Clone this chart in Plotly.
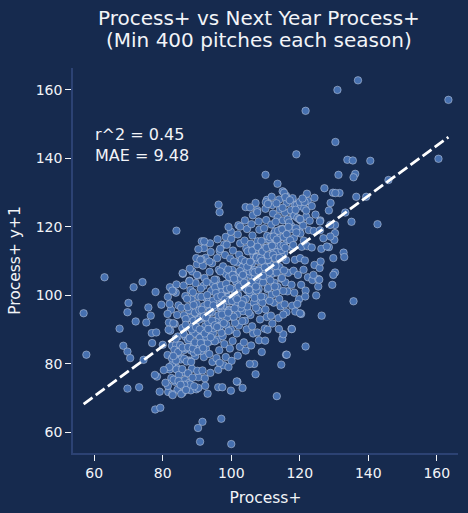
import numpy as np
import plotly.graph_objects as go

# points, (Process+, Process+ y+1)
upper_tail = [
    (121.7, 153.9), (131.0, 160.0), (137.0, 162.8), (163.4, 157.1), (130.4, 144.8),
    (119.0, 141.2), (133.9, 139.6), (135.5, 139.4), (140.6, 139.3), (160.5, 139.9),
    (131.3, 135.2), (136.2, 135.5), (135.7, 134.5), (110.0, 135.2), (113.5, 132.6),
    (115.0, 130.4), (115.4, 130.0), (115.8, 128.7), (122.1, 129.7), (124.3, 128.5),
    (127.2, 131.3), (129.7, 130.0), (131.6, 129.9), (130.4, 129.9), (136.5, 128.8),
    (139.4, 128.8), (145.9, 133.7), (133.3, 124.2), (135.1, 121.5), (142.7, 120.8),
    (129.0, 127.0), (128.5, 124.8), (120.0, 127.3), (121.4, 127.3), (121.9, 124.8),
    (120.1, 122.3), (126.0, 121.9), (130.3, 120.6), (130.3, 118.2), (130.1, 116.2),
    (128.5, 114.1), (132.8, 112.5), (133.0, 111.2), (129.8, 110.9), (126.1, 109.9),
    (130.3, 106.7), (129.8, 106.0), (129.5, 103.1), (125.4, 104.8), (124.8, 100.0),
    (121.6, 99.7), (135.7, 98.3), (126.4, 94.1), (120.1, 94.8), (121.7, 85.1),
    (96.3, 126.5), (96.6, 124.3), (99.2, 120.0), (104.2, 125.8), (107.1, 127.0),
    (110.1, 127.2), (110.7, 126.7), (84.0, 118.9), (107.6, 124.3), (105.5, 125.7),
    (127.9, 114.3), (128.9, 117.2), (126.9, 116.7), (125.9, 121.6), (128.9, 120.6),
    (125.4, 102.6), (125.7, 104.6), (124.0, 106.0), (121.1, 107.5), (102.6, 120.1),
    (113.2, 126.9), (115.0, 125.6), (117.1, 127.8), (118.8, 125.0), (120.8, 128.3),
    (122.9, 121.8), (119.0, 118.4), (121.2, 116.0), (123.5, 126.1), (116.7, 120.0),
]

lower_tail = [
    (63.0, 105.3), (74.1, 103.9), (71.5, 102.4), (77.9, 101.0), (70.0, 97.8),
    (69.7, 95.1), (75.8, 96.5), (56.9, 94.8), (72.1, 92.4), (75.2, 92.1),
    (76.5, 94.1), (67.4, 90.3), (79.6, 97.3), (82.0, 97.5), (81.4, 94.6),
    (68.5, 85.3), (69.7, 83.6), (70.5, 81.7), (57.7, 82.7), (69.7, 72.8),
    (73.1, 73.2), (76.8, 89.0), (78.1, 89.2), (81.7, 90.0), (76.9, 86.1),
    (74.4, 81.2), (85.8, 106.5), (87.9, 107.8), (91.4, 115.8), (92.1, 115.8),
    (90.4, 113.5), (91.3, 110.6), (83.1, 101.2), (87.8, 104.2), (90.0, 106.0),
    (83.1, 91.9), (77.8, 66.7), (79.3, 67.2), (91.6, 63.1), (90.3, 61.3),
    (97.1, 64.0), (90.9, 57.3), (100.0, 56.6), (113.3, 70.6), (114.6, 79.8),
    (116.0, 82.7), (79.1, 71.9), (82.8, 71.2), (85.4, 71.2), (93.1, 71.3),
    (99.9, 72.2), (103.3, 73.0), (101.8, 74.8), (96.2, 73.2), (97.4, 73.2),
    (90.4, 73.0), (92.4, 73.6), (88.0, 74.0), (86.3, 73.9), (81.5, 73.6),
    (78.3, 76.3), (77.7, 76.8), (81.9, 79.1), (85.7, 78.5), (82.7, 81.6),
    (83.9, 81.0), (80.0, 85.6), (107.1, 77.0), (106.7, 80.0), (105.4, 80.0),
    (96.6, 80.3), (99.2, 79.1), (109.9, 86.8), (101.6, 74.9), (117.6, 90.2),
    (116.2, 82.7), (108.9, 83.5), (114.9, 87.3), (115.2, 88.7), (113.9, 90.2),
    (110.6, 90.0), (119.3, 97.5), (120.4, 94.6), (118.7, 95.3), (115.2, 94.4),
    (117.7, 90.2), (91.0, 110.4), (93.6, 109.9), (96.8, 113.6), (98.7, 114.8),
    (82.8, 101.4), (80.8, 74.5), (82.9, 70.9), (84.6, 75.0), (86.8, 72.4),
    (87.4, 77.3), (89.2, 73.5), (80.3, 78.2), (83.1, 82.3), (85.2, 73.9),
    (88.7, 76.0),
]

# dense cloud, read column by column
core_a = [
    (81.6, 71.8), (82.5, 75.9), (82.0, 78.4), (81.4, 82.6), (82.7, 85.3), (82.2, 89.7), (81.8, 92.1), (82.4, 95.8), (81.5, 99.6), (82.1, 102.4),
    (84.3, 72.5), (83.6, 74.8), (84.1, 78.9), (84.7, 81.4), (83.9, 85.6), (84.4, 88.0), (83.5, 91.7), (84.2, 94.3), (84.6, 97.1), (83.8, 100.8), (84.0, 103.2),
    (85.8, 71.6), (86.5, 75.3), (86.0, 77.6), (85.5, 81.8), (86.3, 84.1), (86.7, 87.9), (85.7, 90.5), (86.2, 94.2), (85.4, 96.4), (86.6, 99.8), (86.1, 102.9), (85.9, 106.3),
    (88.2, 72.3), (87.6, 74.4), (88.5, 78.6), (87.9, 81.0), (88.3, 83.9), (87.5, 87.3), (88.7, 89.5), (88.0, 93.4), (87.7, 95.7), (88.4, 98.9), (88.1, 101.6), (87.8, 104.3), (88.6, 107.0),
    (89.8, 72.6), (90.4, 76.1), (90.1, 78.0), (89.5, 82.3), (90.6, 84.5), (90.0, 88.6), (89.7, 90.9), (90.3, 93.8), (89.9, 97.5), (90.5, 99.7), (89.6, 103.6), (90.2, 105.8), (90.0, 109.1), (89.8, 110.9),
    (92.3, 75.8), (91.6, 78.1), (92.0, 82.0), (92.6, 84.4), (91.8, 87.2), (92.4, 91.0), (91.5, 93.3), (92.1, 96.9), (92.7, 99.2), (91.9, 102.8), (92.2, 105.1), (91.7, 108.7), (92.5, 111.0), (92.0, 113.8),
    (93.9, 77.4), (94.5, 80.6), (93.6, 82.9), (94.2, 86.7), (94.7, 89.0), (93.8, 92.4), (94.3, 95.1), (93.5, 97.6), (94.1, 101.3), (94.6, 103.5), (93.7, 106.9), (94.4, 109.4), (94.0, 112.7), (93.8, 115.2),
    (96.2, 78.3), (95.7, 81.7), (96.5, 84.0), (96.0, 87.1), (95.5, 90.8), (96.3, 92.9), (96.7, 96.4), (95.8, 98.8), (96.1, 102.1), (95.6, 104.6), (96.4, 107.5), (95.9, 110.9), (96.6, 113.0), (96.0, 116.4),
    (97.8, 79.6), (98.4, 82.0), (98.0, 85.8), (97.5, 88.1), (98.6, 91.4), (98.1, 94.8), (97.7, 97.0), (98.3, 100.6), (97.9, 102.9), (98.5, 106.2), (97.6, 108.5), (98.2, 111.8), (98.0, 114.9), (98.4, 117.1),
    (100.1, 80.9), (99.6, 84.5), (100.4, 86.7), (99.9, 90.0), (100.6, 93.6), (99.5, 95.9), (100.2, 99.3), (100.7, 101.7), (99.8, 105.0), (100.3, 107.4), (99.7, 110.8), (100.5, 113.1), (100.0, 116.5), (99.9, 118.6),
    (101.9, 82.4), (102.5, 85.0), (101.6, 88.9), (102.2, 91.2), (101.8, 94.5), (102.7, 97.6), (102.0, 100.2), (101.5, 103.9), (102.4, 106.1), (101.7, 109.6), (102.3, 111.9), (102.6, 115.2), (101.9, 117.8), (102.1, 120.5),
    (104.2, 83.9), (103.7, 86.3), (104.5, 90.1), (104.0, 92.6), (103.5, 95.4), (104.3, 99.0), (104.7, 101.5), (103.8, 104.8), (104.1, 107.3), (103.6, 110.1), (104.4, 113.7), (103.9, 116.0), (104.6, 119.4), (104.0, 121.9),
    (105.8, 85.4), (106.4, 88.9), (106.1, 91.0), (105.6, 94.3), (106.6, 97.9), (105.9, 100.4), (106.3, 103.6), (105.5, 106.0), (106.0, 109.3), (106.5, 111.7), (105.7, 115.1), (106.2, 117.5), (105.9, 120.8), (106.3, 123.4),
    (108.1, 86.9), (107.6, 89.2), (108.4, 93.0), (107.9, 95.6), (108.6, 98.4), (108.0, 101.9), (107.5, 104.2), (108.3, 107.8), (107.8, 110.1), (108.5, 113.5), (107.7, 115.8), (108.2, 119.2), (108.0, 121.6), (107.6, 124.9),
    (109.8, 90.3), (110.4, 93.7), (110.0, 95.9), (109.5, 99.5), (110.6, 101.8), (110.1, 105.4), (109.7, 107.6), (110.3, 111.0), (109.9, 113.9), (110.5, 116.3), (109.6, 119.6), (110.2, 122.0), (110.0, 125.3), (110.4, 127.9),
    (112.0, 91.8), (111.6, 94.1), (112.4, 97.9), (111.8, 100.2), (112.6, 103.7), (112.1, 106.4), (111.5, 109.0), (112.3, 112.5), (111.9, 114.9), (112.5, 118.1), (111.7, 120.7), (112.2, 123.9), (112.0, 126.4), (111.8, 128.8),
    (113.8, 93.4), (114.4, 96.8), (114.0, 99.0), (113.5, 102.5), (114.6, 104.9), (114.1, 108.3), (113.7, 110.6), (114.3, 114.0), (113.9, 116.7), (114.5, 119.4), (113.6, 122.8), (114.2, 125.1), (114.0, 128.0),
    (116.1, 95.1), (115.6, 97.4), (116.4, 101.2), (115.8, 103.8), (116.6, 106.6), (116.0, 110.3), (115.5, 112.5), (116.3, 116.1), (115.9, 118.4), (116.5, 121.9), (115.7, 124.2), (116.2, 127.0), (116.0, 129.1),
    (117.8, 97.0), (118.4, 100.8), (117.6, 103.1), (118.2, 107.2), (118.6, 110.4), (117.9, 113.9), (118.3, 116.8), (117.5, 120.3), (118.1, 123.5), (118.5, 126.4), (117.9, 128.4),
    (119.8, 98.9), (120.4, 103.1), (119.5, 106.0), (120.1, 110.9), (120.6, 114.2), (119.9, 118.8), (120.3, 121.9), (119.6, 126.3),
    (121.7, 101.4), (122.4, 105.3), (121.5, 110.2), (122.2, 114.4), (122.6, 119.1), (121.9, 123.0), (122.3, 127.6),
    (123.7, 104.5), (124.3, 108.9), (123.5, 114.0), (124.1, 118.8), (124.6, 123.6),
    (125.8, 108.0), (126.3, 113.6), (125.9, 119.0),
]

core_b = [
    (87.2, 81.0), (86.8, 84.6), (87.4, 86.9), (87.0, 90.8), (86.7, 93.1), (87.3, 96.6), (87.1, 99.0),
    (89.1, 83.3), (88.7, 85.1), (89.3, 88.9), (88.9, 91.2), (89.4, 95.0), (89.0, 97.2), (88.8, 100.9),
    (91.2, 83.8), (90.8, 87.6), (91.4, 89.8), (91.0, 93.5), (90.7, 95.7), (91.3, 99.6), (91.1, 102.0),
    (93.1, 86.2), (92.7, 88.0), (93.3, 92.1), (92.9, 94.0), (93.4, 98.2), (93.0, 100.1), (92.8, 103.9),
    (95.2, 86.6), (94.8, 90.4), (95.4, 92.7), (95.0, 96.5), (94.7, 98.5), (95.3, 102.4), (95.1, 104.6),
    (97.1, 89.1), (96.7, 91.0), (97.3, 95.1), (96.9, 96.9), (97.4, 101.1), (97.0, 103.0), (96.8, 107.0),
    (99.2, 89.6), (98.8, 93.5), (99.4, 95.6), (99.0, 99.5), (98.7, 101.6), (99.3, 105.4), (99.1, 107.6),
    (101.1, 92.0), (100.7, 93.8), (101.3, 97.9), (100.9, 99.8), (101.4, 104.1), (101.0, 105.9), (100.8, 109.9),
    (103.2, 92.5), (102.8, 96.3), (103.4, 98.5), (103.0, 102.4), (102.7, 104.5), (103.3, 108.3), (103.1, 110.5),
    (105.1, 95.0), (104.7, 96.8), (105.3, 100.9), (104.9, 102.8), (105.4, 107.0), (105.0, 108.9), (104.8, 112.9),
    (107.2, 96.4), (106.8, 99.3), (107.4, 101.5), (107.0, 105.3), (106.7, 107.4), (107.3, 111.2), (107.1, 113.5),
    (109.1, 97.9), (108.7, 99.7), (109.3, 103.8), (108.9, 105.8), (109.4, 109.9), (109.0, 111.8), (108.8, 115.9),
    (111.2, 98.4), (110.8, 102.2), (111.4, 104.4), (111.0, 108.3), (110.7, 110.4), (111.3, 114.2), (111.1, 116.4),
    (113.1, 100.8), (112.7, 102.6), (113.3, 106.7), (112.9, 108.6), (113.4, 112.8), (113.0, 114.7), (112.8, 118.7),
    (115.2, 101.3), (114.8, 105.1), (115.4, 107.3), (115.0, 111.2), (114.7, 113.3), (115.3, 117.1), (115.1, 119.4),
]

# densest ridge of the cloud, running along the diagonal
core_ridge = [
    (83.2, 75.4), (82.7, 79.7), (83.4, 84.1), (84.0, 78.4), (84.5, 83.5), (83.8, 87.4),
    (84.7, 76.8), (85.3, 81.3), (85.1, 85.5), (86.3, 81.5), (85.8, 84.8), (86.1, 88.8),
    (87.0, 80.7), (87.4, 84.9), (86.7, 91.4), (88.3, 80.6), (87.9, 87.6), (88.5, 90.1),
    (88.8, 84.5), (89.4, 86.3), (89.0, 92.6), (90.2, 83.7), (89.7, 90.8), (90.5, 92.9),
    (91.1, 86.1), (90.8, 90.1), (91.4, 95.8), (91.8, 84.6), (92.3, 88.9), (92.0, 93.9),
    (93.3, 90.2), (92.7, 93.6), (93.1, 97.5), (94.0, 87.8), (94.4, 92.7), (93.7, 95.3),
    (95.2, 91.3), (94.8, 97.1), (95.5, 100.7), (95.9, 90.8), (96.3, 94.2), (96.0, 99.5),
    (97.3, 94.4), (96.8, 97.2), (97.1, 99.9), (97.8, 91.9), (98.2, 98.8), (98.5, 103.4),
    (99.1, 95.0), (99.4, 98.3), (98.7, 101.8), (100.2, 98.4), (99.7, 102.1), (100.4, 106.0),
    (101.0, 96.2), (101.3, 99.5), (100.8, 104.9), (101.7, 98.9), (102.2, 102.6), (102.5, 107.1),
    (103.1, 97.4), (102.9, 105.0), (103.4, 106.0), (104.3, 102.0), (103.8, 103.7), (104.1, 109.9),
    (105.2, 101.6), (104.7, 108.4), (105.5, 109.8), (105.9, 103.8), (106.4, 106.9), (106.1, 113.1),
    (107.2, 102.6), (106.8, 106.7), (107.4, 111.1), (108.0, 107.2), (108.5, 111.0), (107.7, 114.2),
    (109.3, 105.7), (108.9, 110.1), (109.1, 112.8), (109.8, 108.2), (110.3, 113.9), (110.5, 117.4),
    (111.1, 106.8), (110.7, 111.7), (111.4, 117.0), (112.2, 111.9), (111.9, 114.5), (112.4, 117.2),
    (112.8, 110.9), (113.3, 116.3), (113.0, 121.5), (114.1, 110.9), (114.4, 114.5), (113.7, 118.9),
    (115.3, 114.6), (114.9, 119.3), (115.1, 121.9), (115.8, 113.9), (116.2, 117.9), (116.5, 122.2),
    (117.2, 116.1), (116.9, 121.3), (117.4, 124.9), (118.1, 114.7), (117.7, 119.4), (118.4, 123.3),
    (118.9, 119.6), (119.3, 122.7), (119.1, 126.4), (120.2, 118.1), (119.8, 122.3), (120.4, 126.1),
    (121.0, 120.4), (121.3, 125.4),
]

x_ticks = [60, 80, 100, 120, 140, 160]
y_ticks = [60, 80, 100, 120, 140, 160]
title_lines = ["Process+ vs Next Year Process+", "(Min 400 pitches each season)"]
stats_text = "r^2 = 0.45<br>MAE = 9.48"

points = core_a + core_b + core_ridge + lower_tail + upper_tail
process_plus = np.array([p[0] for p in points])
process_next = np.array([p[1] for p in points])

# best-fit line over the data range
slope, intercept = np.polyfit(process_plus, process_next, 1)
line_x = np.array([process_plus.min(), process_plus.max()])
line_y = intercept + slope * line_x

bg = "#162a4e"
fg = "#f2f4f8"

fig = go.Figure()
fig.add_trace(
    go.Scatter(
        x=process_plus,
        y=process_next,
        mode="markers",
        marker=dict(size=7.5, color="#4670b0", line=dict(width=0.7, color="rgba(215,222,235,0.65)")),
        showlegend=False,
        hoverinfo="skip",
    )
)
fig.add_trace(
    go.Scatter(
        x=line_x,
        y=line_y,
        mode="lines",
        line=dict(color="white", width=2.8, dash="11px,4px"),
        showlegend=False,
        hoverinfo="skip",
    )
)

fig.add_annotation(
    x=59.6, y=143.85, xref="x", yref="y", text=stats_text, showarrow=False,
    xanchor="left", yanchor="middle", align="left", font=dict(size=16, color=fg),
)

# two-line title
for txt, yv in zip(title_lines, [1.1299, 1.0727]):
    fig.add_annotation(
        x=0.4831, y=yv, xref="paper", yref="paper", text=txt, showarrow=False,
        xanchor="center", yanchor="middle", font=dict(size=20, color=fg),
    )

axis_style = dict(
    showgrid=False, zeroline=False, automargin=False,
    showline=True, linecolor="#2c4273", linewidth=1.5,
    ticks="outside", ticklen=6, tickwidth=1.4, tickcolor=fg,
    tickfont=dict(size=14, color=fg),
)

fig.update_layout(
    width=468,
    height=513,
    paper_bgcolor=bg,
    plot_bgcolor=bg,
    font=dict(family="DejaVu Sans", color=fg),
    margin=dict(l=73, r=10, t=68, b=60),
    xaxis=dict(range=[53.8, 166.2], tickvals=x_ticks,
               title=dict(text="Process+", font=dict(size=15.5, color=fg), standoff=13), **axis_style),
    yaxis=dict(range=[54, 166.4], tickvals=y_ticks,
               title=dict(text="Process+ y+1", font=dict(size=15.5, color=fg), standoff=11), **axis_style),
)

# drop the page's default body margin so the figure fills the window
fig.write_html(
    "out.html",
    config={"displayModeBar": False},
    post_script="document.body.style.margin='0';document.body.style.background='#162a4e';",
)
